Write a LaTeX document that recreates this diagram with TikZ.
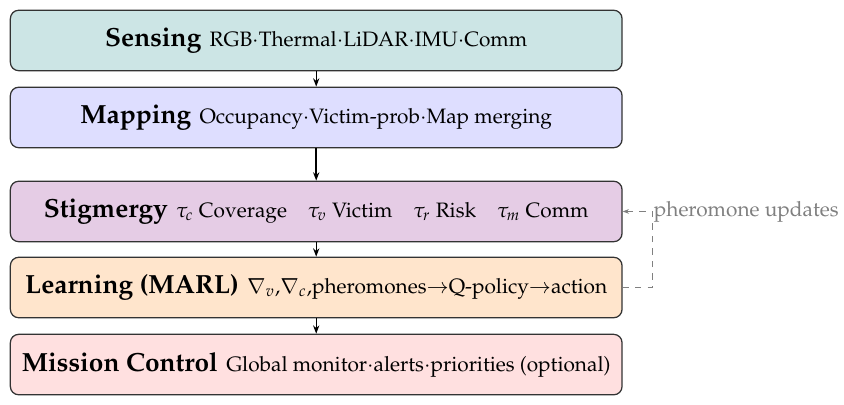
\documentclass[tikz,border=0pt]{standalone}
\usepackage[T1]{fontenc}
\usepackage{mathpazo}
\usetikzlibrary{arrows.meta,positioning}
\newcommand{\layertitle}[1]{{\fontsize{12.6pt}{15pt}\selectfont\bfseries #1}\hspace{0.4em}}

\begin{document}
\begin{tikzpicture}[
  layer/.style={draw=black!80, rounded corners=4pt, minimum width=10.32cm,
                minimum height=1.02cm, align=center, line width=0.6pt},
  flow/.style={draw=black, line width=0.6pt, -{Stealth[length=4pt]}},
  feedback/.style={draw=gray, dashed, line width=0.5pt, -{Stealth[length=3pt]}}
]
\useasboundingbox (0,0) rectangle (14.24,-6.82);

\node[layer, fill=teal!20] (sensing) at (5.335,-0.683)
  {\layertitle{Sensing}RGB$\cdot$Thermal$\cdot$LiDAR$\cdot$IMU$\cdot$Comm};
\node[layer, fill=blue!13] (mapping) at (5.335,-1.982)
  {\layertitle{Mapping}Occupancy$\cdot$Victim-prob$\cdot$Map merging};
\node[layer, fill=violet!20] (stigmergy) at (5.335,-3.568)
  {\layertitle{Stigmergy}$\tau_c$ Coverage\quad $\tau_v$ Victim\quad $\tau_r$ Risk\quad $\tau_m$ Comm};
\node[layer, fill=orange!20] (learning) at (5.335,-4.851)
  {\layertitle{Learning (MARL)}$\nabla_v$,$\nabla_c$,pheromones$\rightarrow$Q-policy$\rightarrow$action};
\node[layer, fill=red!12] (mission) at (5.335,-6.151)
  {\layertitle{Mission Control}Global monitor$\cdot$alerts$\cdot$priorities (optional)};

\draw[flow] (sensing) -- (mapping);
\draw[flow, line width=1pt] (mapping) -- (stigmergy);
\draw[flow] (stigmergy) -- (learning);
\draw[flow] (learning) -- (mission);

%% feedback loop
\draw[feedback] (learning.east) -- ++(0.50,0) |- (stigmergy.east)
  node[pos=0.5, right, inner sep=0.5pt, text=gray] {pheromone updates};

\end{tikzpicture}
\end{document}
